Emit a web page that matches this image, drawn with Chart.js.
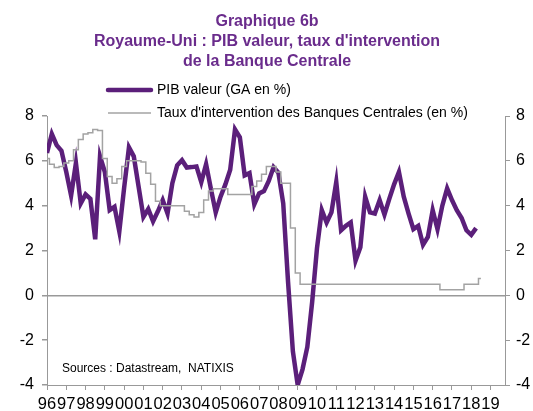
<!DOCTYPE html>
<html>
<head>
<meta charset="utf-8">
<script src="https://cdn.jsdelivr.net/npm/chart.js@4.4.1/dist/chart.umd.min.js"></script>
<style>
  html, body { margin: 0; padding: 0; background: #fff; }
  canvas { display: block; }
</style>
</head>
<body>
<canvas id="chart" width="533" height="411"></canvas>
<script>
// Données trimestrielles, T1 1996 -> T4 2019 (index 0 = T1 1996)
const yearLabels = ["96","97","98","99","00","01","02","03","04","05","06","07",
                    "08","09","10","11","12","13","14","15","16","17","18","19"];

// PIB valeur, glissement annuel en %
const pibValeur = [
  6.35, 7.2, 6.7, 6.45, 5.5, 4.45, 5.9, 4.1, 4.5, 4.3,
  2.5, 6.2, 5.5, 3.8, 3.95, 2.85, 4.8, 6.6, 6.2, 4.85,
  3.5, 3.85, 3.3, 3.75, 4.25, 3.65, 5.0, 5.8, 6.03, 5.7,
  5.72, 5.75, 5.05, 5.85, 4.75, 3.7, 4.4, 4.95, 5.6, 7.4,
  7.05, 5.35, 5.45, 4.06, 4.55, 4.65, 5.1, 5.72, 5.47, 4.1,
  0.6, -2.5, -4.0, -3.3, -2.3, -0.3, 2.1, 3.8, 3.25, 3.7,
  5.05, 2.9, 3.1, 3.25, 1.55, 2.15, 4.4, 3.7, 3.65, 4.25,
  3.6, 4.3, 4.95, 5.5, 4.4, 3.65, 2.95, 3.1, 2.25, 2.6,
  3.8, 2.95, 4.0, 4.77, 4.25, 3.8, 3.45, 2.9, 2.7, 3.0
];

// Taux d'intervention de la Banque d'Angleterre, en %
const tauxDirecteur = [
  6.1, 5.85, 5.7, 5.75, 5.9, 6.0, 6.5, 6.95, 7.2, 7.25,
  7.4, 7.35, 6.1, 5.3, 5.0, 5.2, 5.75, 6.0, 6.0, 6.0,
  5.95, 5.45, 4.95, 4.2, 4.0, 4.0, 4.0, 4.0, 4.0, 3.75,
  3.6, 3.5, 3.7, 4.25, 4.65, 4.75, 4.75, 4.75, 4.5, 4.5,
  4.5, 4.5, 4.5, 4.85, 5.1, 5.4, 5.75, 5.75, 5.5, 5.0,
  5.0, 3.0, 1.0, 0.5, 0.5, 0.5, 0.5, 0.5, 0.5, 0.5,
  0.5, 0.5, 0.5, 0.5, 0.5, 0.5, 0.5, 0.5, 0.5, 0.5,
  0.5, 0.5, 0.5, 0.5, 0.5, 0.5, 0.5, 0.5, 0.5, 0.5,
  0.5, 0.5, 0.25, 0.25, 0.25, 0.25, 0.25, 0.5, 0.5, 0.5,
  0.75
];

const titleLines = ["Graphique 6b",
                    "Royaume-Uni : PIB valeur, taux d'intervention",
                    "de la Banque Centrale"];
const legendLabels = ["PIB valeur (GA en %)",
                      "Taux d'intervention des Banques Centrales (en %)"];
const sourceText = "Sources : Datastream,  NATIXIS";

const purple = "#5b1f7a";
const titlePurple = "#6a2c8c";
const lineGray = "#a3a3a3";
const axisGray = "#999999";
const fontFamily = '"Liberation Sans", Arial, sans-serif';

Chart.defaults.font.family = fontFamily;
Chart.defaults.color = "#000";

// titre, légende et source dessinés à la main (mise en page type Excel)
const decorations = {
  id: "decorations",
  afterDraw(chart) {
    const c = chart.ctx;
    c.save();
    c.textBaseline = "middle";

    c.fillStyle = titlePurple;
    c.font = "bold 16px " + fontFamily;
    c.textAlign = "center";
    titleLines.forEach((t, i) => c.fillText(t, 267, 22 + i * 20));

    c.textAlign = "left";
    c.font = "14px " + fontFamily;
    c.fillStyle = "#000";
    const legendStyles = [
      { color: purple, width: 4.5 },
      { color: lineGray, width: 1.5 }
    ];
    legendLabels.forEach((t, i) => {
      const y = 90 + i * 23;
      c.beginPath();
      c.strokeStyle = legendStyles[i].color;
      c.lineWidth = legendStyles[i].width;
      c.lineCap = i === 0 ? "round" : "butt";
      c.moveTo(108, y);
      c.lineTo(151, y);
      c.stroke();
      c.fillText(t, 157, y);
    });

    c.font = "12px " + fontFamily;
    c.fillText(sourceText, 62, 369);
    c.restore();
  }
};

new Chart(document.getElementById("chart"), {
  type: "line",
  data: {
    datasets: [
      {
        label: legendLabels[0],
        data: pibValeur.map((v, i) => ({ x: i, y: v })),
        borderColor: purple,
        borderWidth: 4.5,
        pointRadius: 0,
        tension: 0,
        order: 1
      },
      {
        label: legendLabels[1],
        data: tauxDirecteur.map((v, i) => ({ x: i, y: v })),
        borderColor: lineGray,
        borderWidth: 1.5,
        stepped: "middle",
        pointRadius: 0,
        order: 0
      }
    ]
  },
  options: {
    responsive: false,
    animation: false,
    devicePixelRatio: 1,
    layout: { padding: { top: 116, left: 0, right: 0, bottom: 0 } },
    plugins: {
      legend: { display: false },
      title: { display: false },
      tooltip: { enabled: false }
    },
    scales: {
      x: {
        type: "linear",
        min: 0,
        max: 95,
        afterBuildTicks: s => { s.ticks = yearLabels.map((_, i) => ({ value: i * 4 })); },
        afterFit: s => { s.height = 26; },
        ticks: {
          autoSkip: false,
          maxRotation: 0,
          padding: 5,
          font: { size: 16.5 },
          callback: v => yearLabels[v / 4]
        },
        grid: { drawOnChartArea: false, color: axisGray, tickLength: 5 },
        border: { color: axisGray }
      },
      y: {
        min: -4,
        max: 8,
        afterFit: s => { s.width = 47; },
        ticks: { stepSize: 2, padding: 8, font: { size: 16 } },
        grid: {
          color: c => (c.tick && c.tick.value === 0) ? axisGray : "rgba(0,0,0,0)",
          lineWidth: 1.5,
          tickColor: axisGray,
          tickLength: 5
        },
        border: { color: axisGray }
      },
      y2: {
        position: "right",
        min: -4,
        max: 8,
        afterFit: s => { s.width = 28; },
        ticks: { stepSize: 2, padding: 6, font: { size: 16 } },
        grid: { drawOnChartArea: false, color: axisGray, tickLength: 5 },
        border: { color: axisGray }
      }
    }
  },
  plugins: [decorations]
});
</script>
</body>
</html>
